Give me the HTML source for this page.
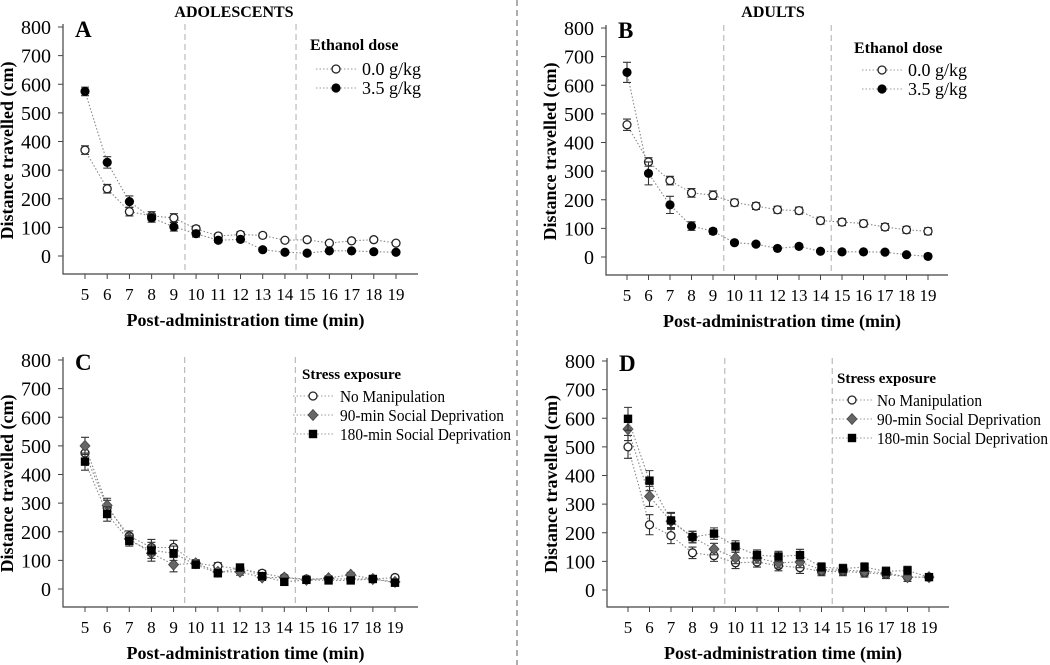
<!DOCTYPE html>
<html><head><meta charset="utf-8"><style>
html,body{margin:0;padding:0;background:#fff;}
svg{display:block;font-family:"Liberation Serif",serif;}
</style></head><body>
<svg id="fig" width="1050" height="665" viewBox="0 0 1050 665" xmlns="http://www.w3.org/2000/svg"></svg>
<script>
const times=[5,6,7,8,9,10,11,12,13,14,15,16,17,18,19];
const yTicks=[0,100,200,300,400,500,600,700,800];
const aOpen=[370,235,155,140,133,95,70,75,72,55,57,45,53,57,45];
const aOpenErr=[15,15,15,15,15,10,8,10,8,6,6,6,6,6,6];
const aFilled=[575,327,190,133,102,78,55,58,22,13,10,18,18,15,13];
const aFilledErr=[15,20,20,15,15,12,8,8,6,4,4,4,4,4,4];
const bOpen=[462,332,267,224,216,190,178,165,162,127,122,117,105,95,90];
const bOpenErr=[20,15,15,15,15,12,12,12,12,12,12,12,12,12,12];
const bFilled=[645,292,182,108,90,50,45,30,37,20,18,18,17,8,2];
const bFilledErr=[35,40,30,15,10,6,6,5,6,4,4,4,4,4,4];
const cNM=[475,285,185,145,145,90,80,70,55,40,35,35,35,35,40];
const c90=[500,292,175,125,85,90,60,60,40,40,32,38,50,35,25];
const c180=[445,262,168,135,125,85,55,75,45,25,32,30,30,35,22];
const cErr=[30,25,18,28,25,12,12,12,10,8,8,8,8,8,8];
const dNM=[500,228,190,130,120,95,98,85,78,65,65,60,55,45,45];
const d90=[562,327,240,185,143,112,112,95,98,70,70,65,60,45,45];
const d180=[598,382,243,185,197,152,122,117,122,80,75,80,65,68,45];
const dErr=[40,35,28,20,20,20,18,18,20,15,15,15,15,15,10];

const NS="http://www.w3.org/2000/svg";
const svg=document.getElementById('fig');
function el(tag,attrs,parent,text){const e=document.createElementNS(NS,tag);for(const k in attrs)e.setAttribute(k,attrs[k]);if(text!==undefined)e.textContent=text;(parent||svg).appendChild(e);return e;}

const cd=el('line',{x1:517,y1:0,x2:517,y2:665,stroke:'#777','stroke-width':1.2,'stroke-dasharray':'6,4'});


const t1=el('text',{x:234,y:17,'text-anchor':'middle','font-weight':'bold','font-size':16},svg,'ADOLESCENTS');


const t2=el('text',{x:773,y:17,'text-anchor':'middle','font-weight':'bold','font-size':16},svg,'ADULTS');



function marker(g,type,x,y){
  if(type==='open')return el('circle',{cx:x,cy:y,r:4,fill:'#fff',stroke:'#222','stroke-width':1.3},g);
  if(type==='filled')return el('circle',{cx:x,cy:y,r:4.6,fill:'#000'},g);
  if(type==='diamond')return el('path',{d:`M${x} ${y-5.5}L${x+5} ${y}L${x} ${y+5.5}L${x-5} ${y}Z`,fill:'#666',stroke:'#444','stroke-width':0.8},g);
  return el('rect',{x:x-4.2,y:y-4.2,width:8.4,height:8.4,fill:'#000'},g);
}

function panel(p){
  const g=el('g',{});
  
  
  const ys=v=>p.y0+(p.y800-p.y0)*v/800;
  const xs=t=>p.x5+(p.x19-p.x5)*(t-5)/14;
  const ax=el('path',{d:`M${p.ax} ${p.y800-3}V${p.bot}H${p.right}`,fill:'none',stroke:'#444','stroke-width':1.2},g);
  
  
  yTicks.forEach(v=>{
    el('line',{x1:p.ax-5,x2:p.ax,y1:ys(v),y2:ys(v),stroke:'#444'},g);
    const t=el('text',{x:p.ax-12,y:ys(v)+7,'text-anchor':'end','font-size':20},g,v);
    
    
  });
  times.forEach(tm=>{
    el('line',{x1:xs(tm),x2:xs(tm),y1:p.bot,y2:p.bot+5,stroke:'#444'},g);
    const t=el('text',{x:xs(tm),y:p.bot+26,'text-anchor':'middle','font-size':17},g,tm);
    
    
  });
  [9.5,14.5].forEach(tm=>{
    const d=el('line',{x1:xs(tm),x2:xs(tm),y1:p.y800-3,y2:p.bot,stroke:'#bbb','stroke-width':1.2,'stroke-dasharray':'6,4'},g);
    
    
  });
  const yt=el('text',{transform:`translate(${p.ax-50},${(p.y800+p.bot)/2}) rotate(-90)`,'text-anchor':'middle','font-weight':'bold','font-size':18},g,'Distance travelled (cm)');
  
  
  const xt=el('text',{x:(p.ax+p.right)/2+5,y:p.bot+52,'text-anchor':'middle','font-weight':'bold','font-size':18},g,'Post-administration time  (min)');
  
  
  const lb=el('text',{x:p.ax+12,y:p.y800+10,'font-weight':'bold','font-size':23},g,p.label);
  
  
  p.series.forEach((s,si)=>{
    const sg=el('g',{},g);
    
    
    const pts=s.vals.map((v,i)=>xs(times[i])+','+ys(v)).join(' ');
    el('polyline',{points:pts,fill:'none',stroke:'#888','stroke-width':1.1,'stroke-dasharray':'1.5,2'},sg);
    s.vals.forEach((v,i)=>{
      const x=xs(times[i]),e=s.err[i];
      el('path',{d:`M${x} ${ys(v-e)}V${ys(v+e)}M${x-4} ${ys(v-e)}H${x+4}M${x-4} ${ys(v+e)}H${x+4}`,stroke:'#333','stroke-width':1.1,fill:'none'},sg);
      const m=marker(sg,s.type,x,ys(v));
      
      
    });
  });
  const lg=el('g',{},g);
  
  
  el('text',{x:p.lgx,y:p.lgy,'font-weight':'bold','font-size':p.ltfs},lg,p.lgTitle);
  p.series.forEach((s,i)=>{
    const y=p.lgy+p.lgFirst+i*p.lgStep;
    const e=el('g',{},lg);
    
    
    el('line',{x1:p.lmx-20,x2:p.lmx+22,y1:y,y2:y,stroke:'#999','stroke-dasharray':'1.5,2'},e);
    marker(e,s.type,p.lmx,y);
    const attrs={x:p.ltx,y:y+6,'font-size':p.lfs};
    if(s.w){attrs.textLength=s.w;attrs.lengthAdjust='spacingAndGlyphs';}
    el('text',attrs,e,s.name);
  });
}

panel({label:'A',ax:63,y800:27,y0:256,bot:274,right:418,x5:85,x19:396,
  lgTitle:'Ethanol dose',lgx:310,lgy:50,ltfs:16,lgFirst:19,lgStep:19,lmx:336,ltx:362,lfs:18,
  series:[{name:'0.0 g/kg',type:'open',vals:aOpen,err:aOpenErr},{name:'3.5 g/kg',type:'filled',vals:aFilled,err:aFilledErr}]});
panel({label:'B',ax:606,y800:28,y0:257,bot:275,right:948,x5:627,x19:928,
  lgTitle:'Ethanol dose',lgx:854,lgy:53,ltfs:16,lgFirst:17,lgStep:19,lmx:882,ltx:908,lfs:18,
  series:[{name:'0.0 g/kg',type:'open',vals:bOpen,err:bOpenErr},{name:'3.5 g/kg',type:'filled',vals:bFilled,err:bFilledErr}]});
panel({label:'C',ax:63,y800:360,y0:589,bot:607,right:418,x5:85,x19:395,
  lgTitle:'Stress exposure',lgx:302,lgy:379,ltfs:15,lgFirst:17,lgStep:19,lmx:313,ltx:340,lfs:17,
  series:[{name:'No Manipulation',type:'open',vals:cNM,err:cErr,w:105},{name:'90-min Social Deprivation',type:'diamond',vals:c90,err:cErr,w:164},{name:'180-min Social Deprivation',type:'square',vals:c180,err:cErr,w:171}]});
panel({label:'D',ax:607,y800:361,y0:590,bot:607,right:949,x5:628,x19:929,
  lgTitle:'Stress exposure',lgx:837,lgy:383,ltfs:15,lgFirst:17,lgStep:19,lmx:852,ltx:877,lfs:17,
  series:[{name:'No Manipulation',type:'open',vals:dNM,err:dErr,w:105},{name:'90-min Social Deprivation',type:'diamond',vals:d90,err:dErr,w:164},{name:'180-min Social Deprivation',type:'square',vals:d180,err:dErr,w:171}]});
</script>
</body></html>
